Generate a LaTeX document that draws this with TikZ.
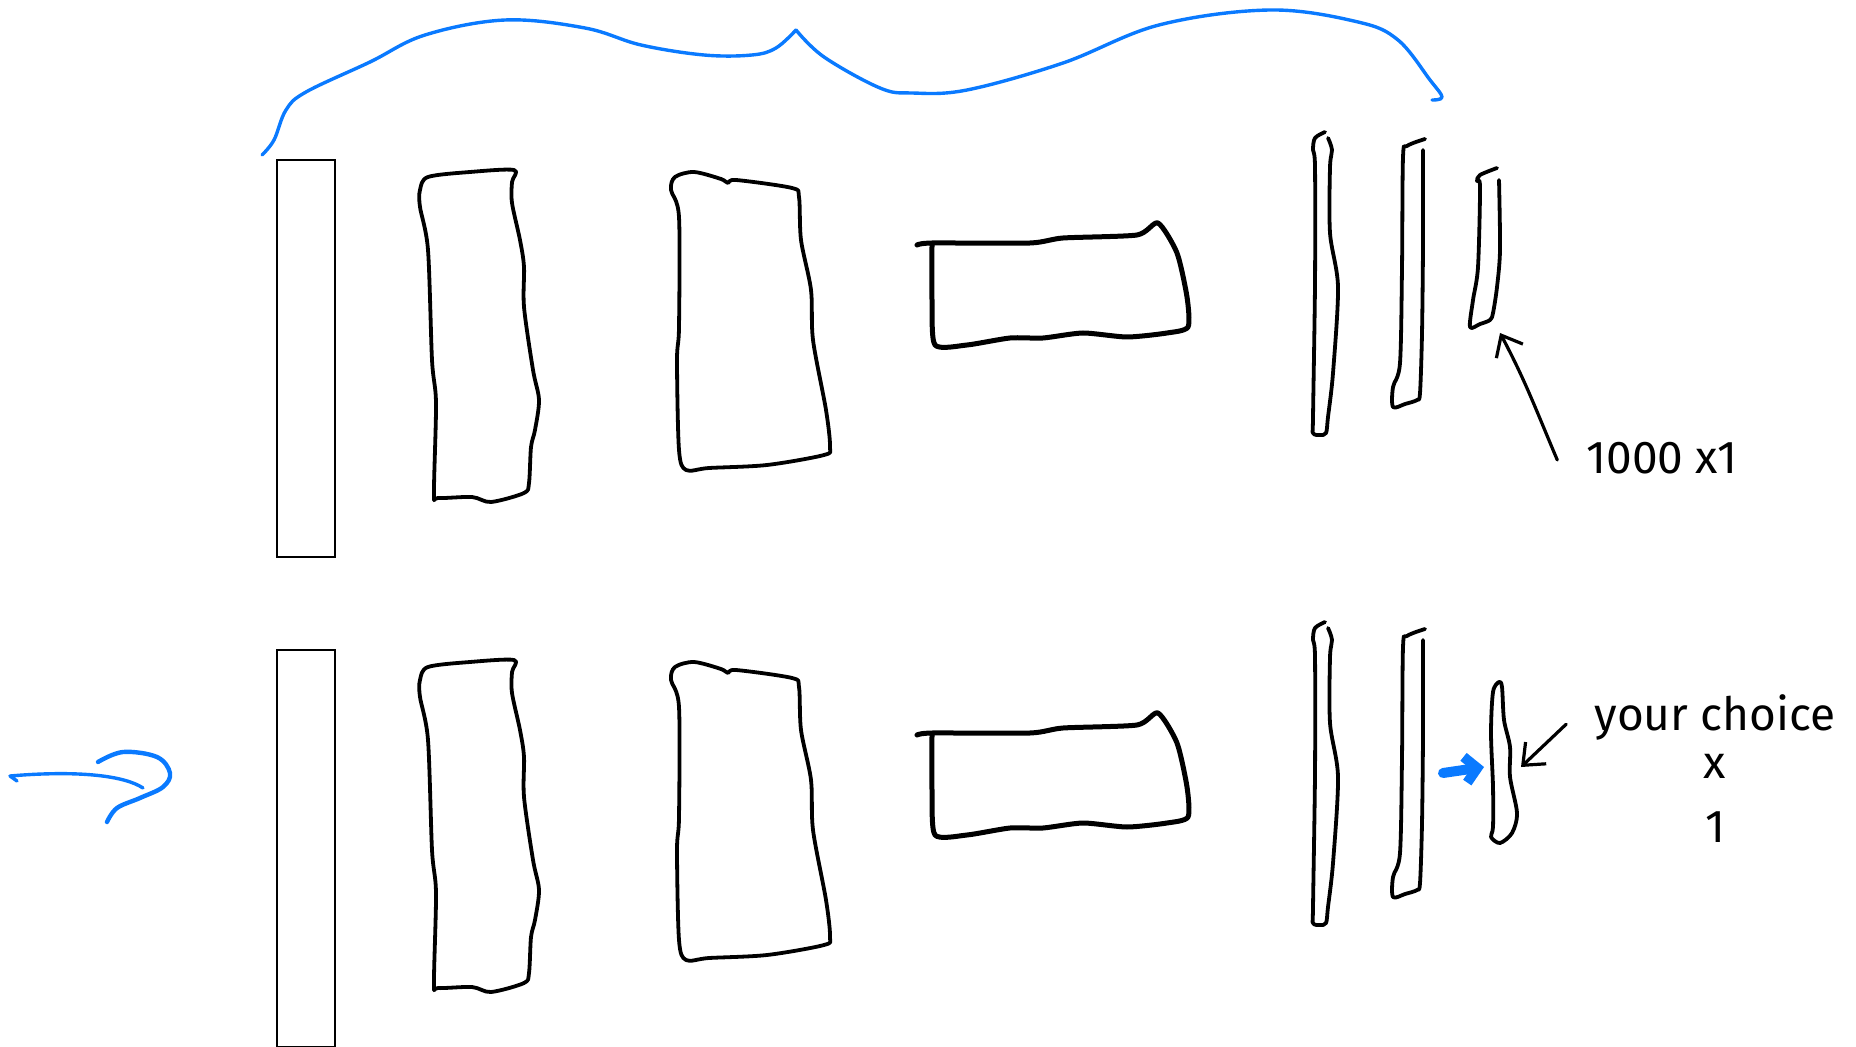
\documentclass[tikz,border=0pt]{standalone}
\usepackage{fontspec}
\setmainfont{Fira Sans}
\usepackage{tikz}
\usetikzlibrary{arrows.meta, positioning}
\definecolor{penblue}{RGB}{10,122,255}

\begin{document}
\begin{tikzpicture}[
  x=0.5pt, y=-0.5pt,
  frame/.style={rectangle, draw, line width=1pt, minimum width=29pt, minimum height=198.5pt, inner sep=0pt},
  sketch/.style={line width=1.9pt, line join=round, line cap=round},
  heavy/.style={line width=2.5pt, line join=round, line cap=round},
  note/.style={font=\fontsize{23}{27}\selectfont, inner sep=0pt},
  pointer/.style={-{Straight Barb[length=9pt, width=15pt]}, line width=1.6pt, line cap=round},
  bluepen/.style={penblue, line width=1.7pt, line cap=round, line join=round},
  push/.style={-{Straight Barb[length=6pt, width=13pt]}, penblue, line width=5pt, line cap=round},
]
\useasboundingbox (0,0) rectangle (1856,1047);

% Brace over the layers
\draw[bluepen] plot[smooth, tension=0.6] coordinates {(262,155) (274,140) (286,110) (306,92) (370,62) (425,35) (505,20) (585,28) (641,45) (704,55) (752,55) (776,48) (796,30)};
\draw[bluepen] plot[smooth, tension=0.6] coordinates {(796,30) (824,57) (880,88) (912,93) (967,90) (1063,63) (1159,25) (1270,10) (1358,22) (1398,40) (1430,80) (1442,97) (1432,100)};

% Two rows of layers
\foreach \dy/\r in {0/a, 490/b}{
  \node[frame] (in\r) at (306,{358.5+\dy}) {};
  \begin{scope}[shift={(0,\dy)}]
    \draw[sketch] plot[smooth cycle, tension=0.5] coordinates {(420,190) (428,177) (470,172) (514,170) (512,182) (512,203) (520,240) (524,267) (524,307) (533,370) (539,400) (535,430) (531,447) (529,483) (524,493) (491,502) (472,497) (438,498) (434,493) (436,403) (432,360) (428,250) (420,207)};
    \draw[sketch] plot[smooth cycle, tension=0.5] coordinates {(675,177) (694,172) (721,179) (728,183) (736,180) (792,188) (799,197) (801,240) (811,290) (813,340) (826,410) (830,447) (824,455) (767,465) (709,468) (686,470) (679,450) (677,360) (679,327) (679,217) (671,190)};
    \draw[heavy] plot[smooth, tension=0.4] coordinates {(917,245) (932,243) (1030,243) (1063,238) (1137,235) (1158,223) (1177,253) (1187,297) (1188,327) (1167,333) (1127,337) (1083,333) (1043,338) (1010,338) (967,345) (935,345) (932,300) (932,245)};
    \draw[sketch] plot[smooth, tension=0.5] coordinates {(1325,132) (1315,138) (1313,150) (1315,167) (1315,283) (1313,417) (1313,433) (1320,435) (1326,433) (1328,417) (1333,373) (1338,287) (1330,233) (1330,167) (1332,150) (1328,138)};
    \draw[sketch] plot[smooth, tension=0.5] coordinates {(1425,139) (1407,146) (1403,157) (1402,267) (1400,363) (1393,387) (1393,407) (1405,404) (1417,400) (1420,393) (1422,333) (1423,243) (1423,150)};
  \end{scope}
}

% Last layer, top row
\draw[sketch] plot[smooth, tension=0.5] coordinates {(1497,168) (1480,175) (1477,181) (1480,187) (1478,267) (1473,300) (1470,327) (1480,324) (1490,320) (1493,313) (1497,287) (1500,250) (1499,180)};
\coordinate (tip1) at (1500,333);

% Last layer, bottom row
\draw[sketch] plot[smooth cycle, tension=0.5] coordinates {(1499,682) (1493,692) (1491,733) (1493,787) (1493,827) (1491,837) (1500,843) (1512,833) (1517,813) (1510,777) (1510,747) (1504,720) (1502,687)};
\coordinate (tip2) at (1521,767);
\coordinate (tip3) at (1484,767);
\coordinate (push0) at (1443,773);

% Labels
\node[note] (lbl1) at (1662,458) {1000 x1};
\node[note] (lbl2) at (1715,717) {your choice};
\node[note, below=7pt of lbl2] (lbl3) {x};
\node[note, below=16pt of lbl3] (lbl4) {1};

% Arrows
\draw[pointer] ([xshift=-14.5pt, yshift=-1pt]lbl1.west) to[out=113, in=-62] (tip1);
\draw[pointer] ([shift={(-14pt,8pt)}]lbl2.south west) -- (tip2);
\draw[push] (push0) -- (tip3);

% Input arrow
\coordinate (feed0) at (10,776);
\coordinate (feed1) at (143,788);
\draw[bluepen] (17,781) -- (feed0) .. controls (80,770) and (125,776) .. (feed1);
\draw[bluepen, line width=2.2pt] plot[smooth, tension=0.6] coordinates {(98,762) (123,752) (157,757) (170,773) (163,787) (140,798) (117,808) (107,822)};

\end{tikzpicture}
\end{document}
